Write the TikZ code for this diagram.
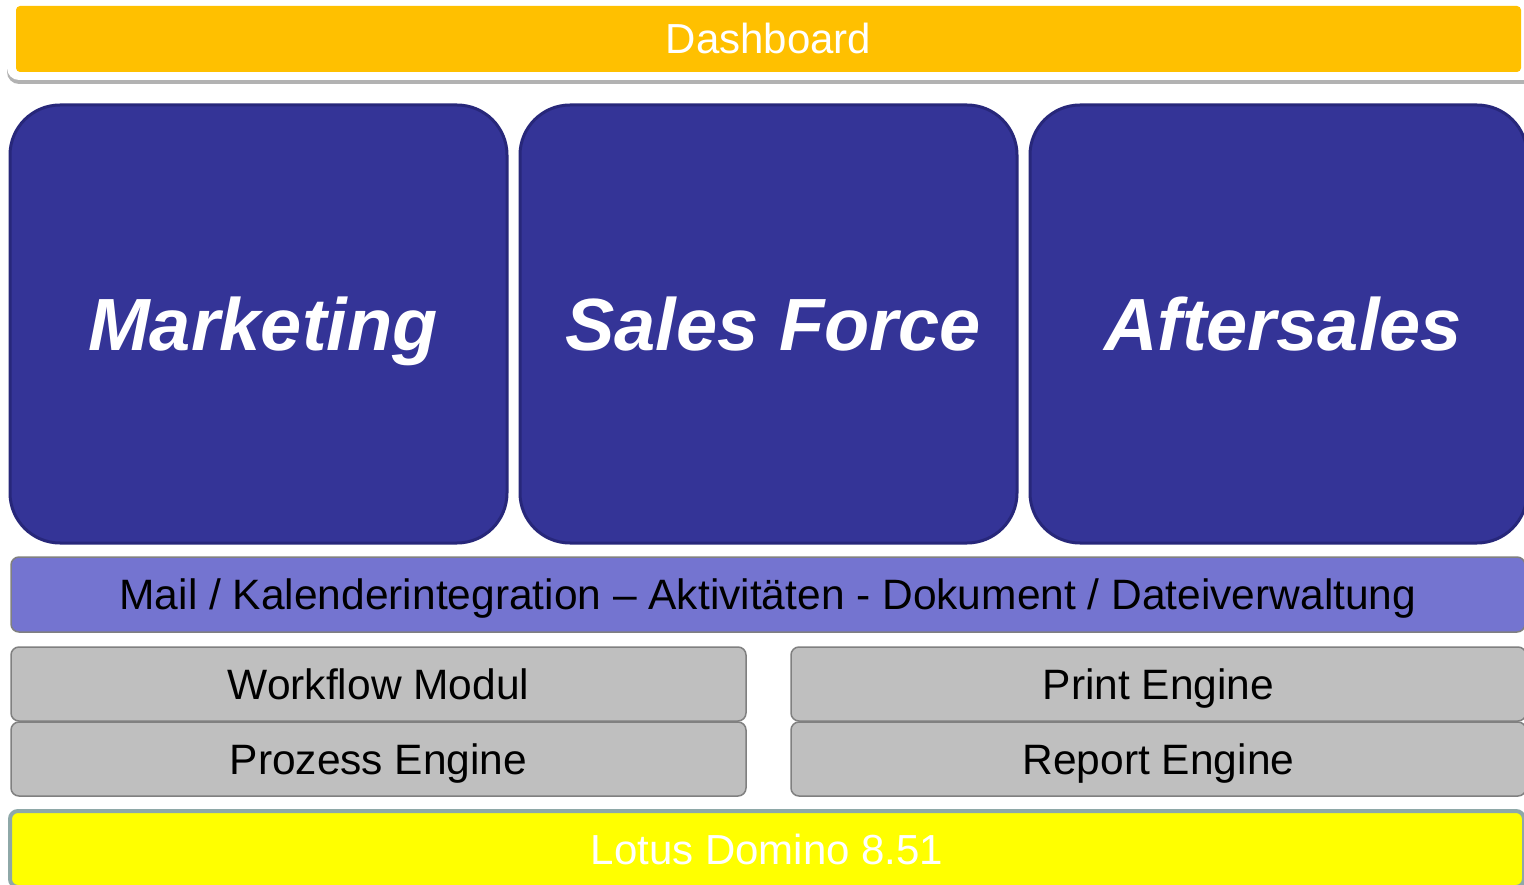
\documentclass[tikz,border=0pt]{standalone}
\usepackage{fontspec}
\setmainfont{Liberation Sans}
\usetikzlibrary{shadows}
\definecolor{dashorange}{HTML}{FFC000}
\definecolor{modblue}{HTML}{343497}
\definecolor{modborder}{HTML}{27277A}
\definecolor{mailviolet}{HTML}{7474D0}
\definecolor{enginegray}{HTML}{BFBFBF}
\definecolor{edgegray}{HTML}{808080}
\definecolor{lotusyellow}{HTML}{FFFF00}
\definecolor{lotusedge}{HTML}{8EA8A8}
\tikzset{
	plain/.style={anchor=north west, inner sep=0pt, outer sep=0pt,
		text height=30pt, text depth=0pt, font=\fontsize{42}{48}\selectfont},
	modulebox/.style={plain, draw=modborder, line width=3pt, fill=modblue,
		rounded corners=50pt, minimum width=497pt, minimum height=438pt,
		text=white, text height=53pt, font=\fontsize{74}{80}\selectfont\bfseries\itshape,
		execute at begin node=\hspace*{9pt}},
	enginebox/.style={plain, draw=edgegray, line width=1.5pt, fill=enginegray,
		rounded corners=8pt, minimum height=74pt,
		font=\fontsize{42.5}{48}\selectfont},
}
\begin{document}
\begin{tikzpicture}[x=1pt,y=-1pt]
	\useasboundingbox (0,0) rectangle (1524,885);
	% dashboard bar
	\node[plain, fill=white, rounded corners=12pt, minimum width=1540pt, minimum height=79pt,
		drop shadow={shadow xshift=0pt, shadow yshift=-4pt, fill=black, opacity=0.3}] (dashframe) at (7,1) {};
	\node[plain, fill=dashorange, rounded corners=4pt, minimum width=1505pt, minimum height=66pt,
		text=white] (dash) at (16,6) {Dashboard};
	% modules
	\node[modulebox] (mkt) at (10,105) {Marketing};
	\node[modulebox] (sales) at (520,105) {Sales Force};
	\node[modulebox] (after) at (1030,105) {Aftersales};
	% integration bar
	\node[enginebox, fill=mailviolet, minimum width=1514pt, minimum height=75pt] (mail) at (11,557)
		{Mail / Kalenderintegration -- Aktivitäten - Dokument / Dateiverwaltung};
	% engines
	\node[enginebox, minimum width=735pt] (flow) at (11,647) {Workflow Modul};
	\node[enginebox, minimum width=735pt] (proc) at (11,722) {Prozess Engine};
	\node[enginebox, minimum width=735pt] (print) at (791,647) {Print Engine};
	\node[enginebox, minimum width=735pt] (report) at (791,722) {Report Engine};
	% base
	\node[plain, draw=lotusedge, line width=4pt, fill=lotusyellow, rounded corners=8pt,
		minimum width=1514pt, minimum height=76pt, text=white] (lotus) at (10,811) {Lotus Domino 8.51};
\end{tikzpicture}
\end{document}
